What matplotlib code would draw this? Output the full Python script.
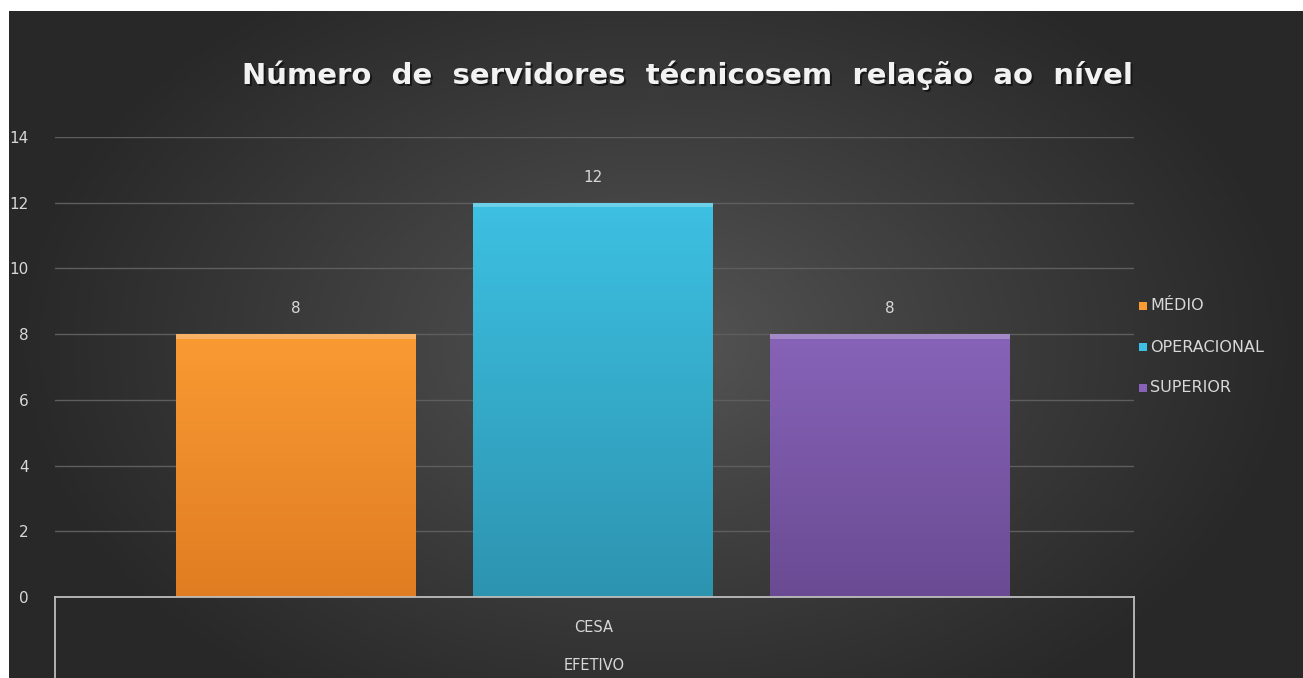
import numpy as np
import matplotlib.pyplot as plt
from matplotlib.patches import Rectangle
from matplotlib.lines import Line2D
import matplotlib.colors as mcolors

# ---- data ----
title = "Número  de  servidores  técnicosem  relação  ao  nível"
series = ["MÉDIO", "OPERACIONAL", "SUPERIOR"]
values = [8, 12, 8]
category_labels = ["CESA", "EFETIVO"]
yticks = [0, 2, 4, 6, 8, 10, 12, 14]

top_colors = ["#F99A33", "#3DC0E2", "#8763B8"]
bot_colors = ["#E07D22", "#2D94B0", "#6A4B93"]

W, H = 1303, 678
fig = plt.figure(figsize=(W / 100, H / 100), dpi=100)
fig.patch.set_facecolor("white")

# background with radial gradient
bg = fig.add_axes([9 / W, 0, 1 - 9 / W, 1 - 11 / H])
bg.set_axis_off()
nx, ny = 400, 200
xx, yy = np.meshgrid(np.linspace(-1, 1, nx), np.linspace(-1, 1, ny))
r = np.sqrt((xx / 1.0) ** 2 + ((yy + 0.0) / 1.3) ** 2)
t = np.clip(r, 0, 1)
c0 = np.array([0x56, 0x56, 0x56]) / 255
c1 = np.array([0x28, 0x28, 0x28]) / 255
img = c0[None, None, :] * (1 - t[..., None] ** 0.9) + c1[None, None, :] * (t[..., None] ** 0.9)
bg.imshow(img, aspect="auto", extent=[0, 1, 0, 1], origin="lower")
bg.set_xlim(0, 1)
bg.set_ylim(0, 1)

# main axes
x0, x1 = 55, 1134
y0, y1 = 597, 137
ax = fig.add_axes([x0 / W, 1 - y0 / H, (x1 - x0) / W, (y0 - y1) / H])
ax.patch.set_alpha(0)
ax.set_ylim(0, 14)
ax.set_yticks(yticks)
for s in ax.spines.values():
    s.set_visible(False)
ax.tick_params(axis="y", length=0, pad=19, labelcolor="#d8d8d8", labelsize=11)
ax.tick_params(axis="x", length=0, labelbottom=False)
ax.grid(axis="y", color="#5e5e5e", linewidth=1)
ax.set_axisbelow(True)

positions = [-1, 0, 1]
width = 0.807
for pos, v, ct, cb, name in zip(positions, values, top_colors, bot_colors, series):
    bars = ax.bar(pos, v, width=width, color=ct, label=name, zorder=3)
    rect = bars[0]
    grad = np.linspace(0, 1, 100)[:, None]
    cmap = mcolors.LinearSegmentedColormap.from_list("g", [cb, ct])
    im = ax.imshow(grad, cmap=cmap, aspect="auto", origin="lower",
                   extent=[pos - width / 2, pos + width / 2, 0, v], zorder=3.5)
    im.set_clip_path(rect)
    # top bevel
    ax.add_patch(Rectangle((pos - width / 2, v - 0.14), width, 0.14,
                           facecolor="white", alpha=0.25, zorder=4, linewidth=0))
    ax.text(pos, v + 0.55, str(v), ha="center", va="bottom",
            color="#d8d8d8", fontsize=11, zorder=5)
ax.set_xlim(-1.81, 1.82)
ax.set_ylim(0, 14)

# category box lines
lc = "#bdbdbd"
fig.add_artist(Line2D([x0 / W, x1 / W], [1 - y0 / H, 1 - y0 / H], color=lc, lw=1.3))
fig.add_artist(Line2D([x0 / W, x0 / W], [1 - y0 / H, 0], color=lc, lw=1.3))
fig.add_artist(Line2D([x1 / W, x1 / W], [1 - y0 / H, 0], color=lc, lw=1.3))
fig.text(594 / W, 1 - 628 / H, category_labels[0], ha="center", va="center",
         color="#d8d8d8", fontsize=10.5)
fig.text(594 / W, 1 - 665 / H, category_labels[1], ha="center", va="center",
         color="#d8d8d8", fontsize=10.5)

# legend
for i, (name, ct) in enumerate(zip(series, top_colors)):
    yy_ = 1 - (306 + 41 * i) / H
    fig.add_artist(Rectangle((1139 / W, yy_ - 4 / H), 8 / W, 8 / H,
                             facecolor=ct, edgecolor="none"))
    fig.text(1150 / W, yy_, name, ha="left", va="center", color="#d8d8d8",
             fontsize=11.5)

# title with shadow
tx, ty = 687 / W, 1 - 75 / H
fig.text(tx + 2 / W, ty - 2 / H, title, ha="center", va="center", color="#111111",
         fontsize=21, fontweight="bold", alpha=0.8)
fig.text(tx, ty, title, ha="center", va="center", color="#f2f2f2",
         fontsize=21, fontweight="bold")

fig.savefig("out.png", dpi=100)
